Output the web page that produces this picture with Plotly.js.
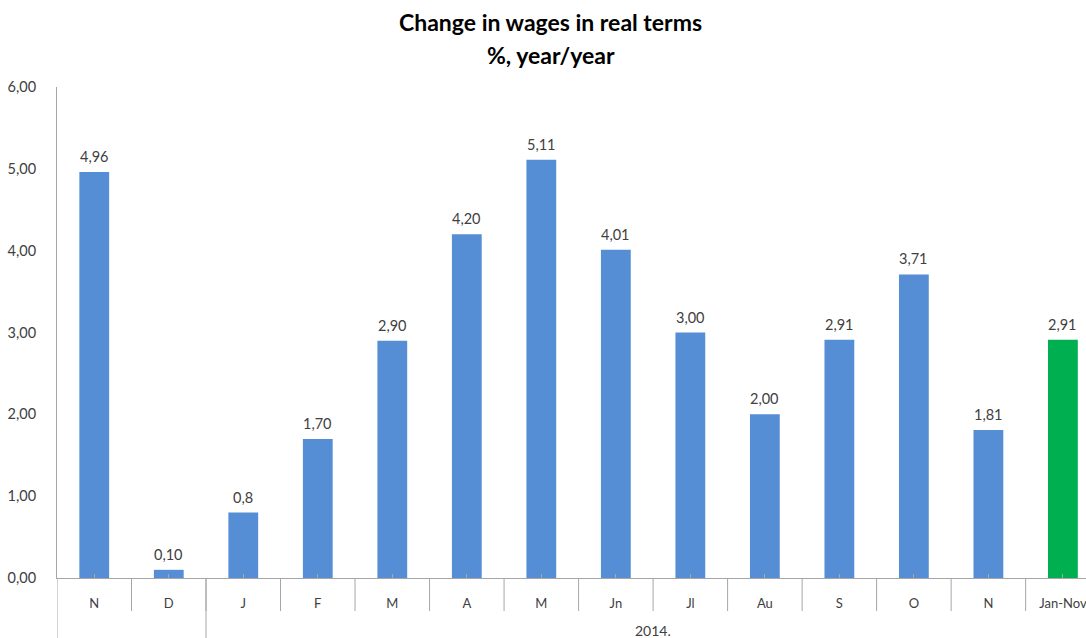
<!DOCTYPE html>
<html>
<head>
<meta charset="utf-8">
<script src="https://cdn.plot.ly/plotly-3.0.1.min.js"></script>
<style>html,body{margin:0;padding:0;background:#fff;}#chart{width:1086px;height:638px;}</style>
</head>
<body>
<div id="chart"></div>
<script>
const categories = ["N", "D", "J", "F", "M", "A", "M", "Jn", "Jl", "Au", "S", "O", "N", "Jan-Nov"];
const values = [4.96, 0.10, 0.8, 1.70, 2.90, 4.20, 5.11, 4.01, 3.00, 2.00, 2.91, 3.71, 1.81, 2.91];
const valueLabels = ["4,96", "0,10", "0,8", "1,70", "2,90", "4,20", "5,11", "4,01", "3,00", "2,00", "2,91", "3,71", "1,81", "2,91"];
const groups = [{label: "", start: 0, end: 1}, {label: "2014.", start: 2, end: 13}];
const yTicks = [0, 1, 2, 3, 4, 5, 6];
const yTickText = ["0,00", "1,00", "2,00", "3,00", "4,00", "5,00", "6,00"];
const titleLines = ["Change in wages in real terms", "%, year/year"];

const blue = "#558ED5", green = "#00B050", axisGray = "#A6A6A6", textCol = "#404040";
const fontFam = "Lato, 'Open Sans', sans-serif";
const xIdx = categories.map((c, i) => i);
const colors = categories.map((c, i) => i === categories.length - 1 ? green : blue);

const shapes = [];
for (let i = 0; i < categories.length - 1; i++) {
  shapes.push({type: "line", xref: "x", yref: "paper", x0: i + 0.5, x1: i + 0.5, y0: 0, y1: -33/491,
    line: {color: axisGray, width: 1}});
}
groups.forEach(g => {
  shapes.push({type: "line", xref: "x", yref: "paper", x0: g.start - 0.5, x1: g.start - 0.5, y0: 0, y1: -60/491,
    line: {color: axisGray, width: 1}});
});

const annotations = values.map((v, i) => ({
  x: i, y: v, xref: "x", yref: "y", text: valueLabels[i], showarrow: false,
  yanchor: "bottom", yshift: 5, font: {family: fontFam, size: 14.5, color: textCol}
}));
groups.forEach(g => {
  if (g.label) annotations.push({
    x: (g.start + g.end) / 2, y: 0, xref: "x", yref: "paper", yanchor: "middle", yshift: -52,
    text: g.label, showarrow: false, font: {family: fontFam, size: 14, color: textCol}
  });
});
titleLines.forEach((t, k) => annotations.push({
  x: 0.5, xref: "paper", y: 1, yref: "paper", xanchor: "center", yanchor: "middle",
  yshift: 65 - 33 * k, xshift: -21, text: "<b>" + t + "</b>", showarrow: false,
  font: {family: fontFam, size: 23, color: "#000"}
}));

const trace = {
  type: "bar", x: xIdx, y: values, width: 0.4,
  marker: {color: colors, line: {width: 0}}, hoverinfo: "none", cliponaxis: false
};

const layout = {
  width: 1086, height: 638,
  margin: {l: 57, r: 0, t: 87, b: 60},
  paper_bgcolor: "#fff", plot_bgcolor: "#fff",
  showlegend: false,
  xaxis: {
    type: "linear", range: [-0.5, 13.31], tickmode: "array", tickvals: xIdx, ticktext: categories,
    showgrid: false, zeroline: false, showline: true, linecolor: axisGray, linewidth: 1,
    ticks: "inside", ticklen: 4, tickcolor: axisGray,
    ticklabelstandoff: 13, ticklabeloverflow: "allow",
    tickfont: {family: fontFam, size: 13, color: textCol}
  },
  yaxis: {
    range: [0, 6], tickmode: "array", tickvals: yTicks, ticktext: yTickText,
    showgrid: false, zeroline: false, showline: true, linecolor: axisGray, linewidth: 1,
    ticks: "", ticklabelstandoff: 17,
    tickfont: {family: fontFam, size: 14.5, color: textCol}
  },
  shapes: shapes,
  annotations: annotations
};

Plotly.newPlot("chart", [trace], layout, {staticPlot: true, displayModeBar: false});
</script>
</body>
</html>
